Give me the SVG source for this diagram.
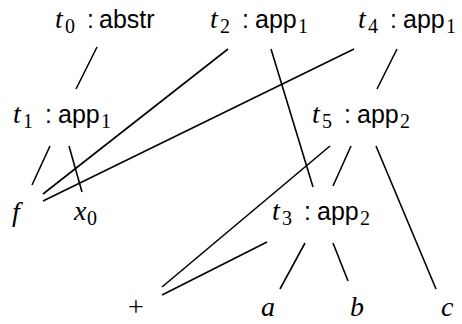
<svg xmlns="http://www.w3.org/2000/svg" width="462" height="324" viewBox="0 0 462 324">
<style>
text{font-family:"Liberation Sans",Arial,sans-serif;font-size:25px;fill:#000}
.mi{font-family:"Liberation Serif","Times New Roman",serif;font-style:italic;font-size:28px}
.sub{font-family:"Liberation Serif","Times New Roman",serif;font-style:normal;font-size:20px}
.e line{stroke:#000;stroke-width:1.6;stroke-linecap:butt}
</style>
<rect width="462" height="324" fill="#fff"/>
<g class="e" id="connectors">
<line x1="97" y1="47" x2="76" y2="89"/>
<line x1="228" y1="49" x2="43" y2="194"/>
<line x1="354" y1="49" x2="43" y2="201"/>
<line x1="50" y1="146" x2="32" y2="185"/>
<line x1="69" y1="146" x2="82" y2="192"/>
<line x1="271" y1="49" x2="313" y2="187"/>
<line x1="397" y1="49" x2="377" y2="89"/>
<line x1="330" y1="146" x2="162" y2="287"/>
<line x1="267" y1="242" x2="162" y2="295"/>
<line x1="351" y1="146" x2="333" y2="186"/>
<line x1="376" y1="146" x2="436" y2="289"/>
<line x1="305" y1="243" x2="280" y2="289"/>
<line x1="333" y1="243" x2="348" y2="281"/>
</g>
<g id="t0"><text y="28"><tspan class="mi" x="55">t</tspan><tspan class="sub" x="65" dy="5">0</tspan><tspan x="87" dy="-5">:</tspan><tspan x="99">abstr</tspan></text></g>
<g id="t2"><text y="28"><tspan class="mi" x="210">t</tspan><tspan class="sub" x="220" dy="5">2</tspan><tspan x="242" dy="-5">:</tspan><tspan x="255">app</tspan><tspan class="sub" x="298" dy="5">1</tspan></text></g>
<g id="t4"><text y="28"><tspan class="mi" x="358">t</tspan><tspan class="sub" x="368" dy="5">4</tspan><tspan x="390" dy="-5">:</tspan><tspan x="403">app</tspan><tspan class="sub" x="446" dy="5">1</tspan></text></g>
<g id="t1"><text y="123"><tspan class="mi" x="13">t</tspan><tspan class="sub" x="23" dy="5">1</tspan><tspan x="45" dy="-5">:</tspan><tspan x="58">app</tspan><tspan class="sub" x="101" dy="5">1</tspan></text></g>
<g id="t5"><text y="123"><tspan class="mi" x="312">t</tspan><tspan class="sub" x="322" dy="5">5</tspan><tspan x="344" dy="-5">:</tspan><tspan x="357">app</tspan><tspan class="sub" x="400" dy="5">2</tspan></text></g>
<g id="t3"><text y="220"><tspan class="mi" x="272">t</tspan><tspan class="sub" x="282" dy="5">3</tspan><tspan x="304" dy="-5">:</tspan><tspan x="317">app</tspan><tspan class="sub" x="360" dy="5">2</tspan></text></g>
<g id="f"><text x="12" y="221" class="mi">f</text></g>
<g id="x0"><text y="220"><tspan class="mi" x="74">x</tspan><tspan class="sub" x="87" dy="5">0</tspan></text></g>
<g id="plus"><text x="136" y="316" style="font-family:'Liberation Serif',serif;font-size:28px" text-anchor="middle">+</text></g>
<g id="a"><text x="261" y="316" class="mi">a</text></g>
<g id="b"><text x="350" y="316" class="mi">b</text></g>
<g id="c"><text x="441" y="316" class="mi">c</text></g>
</svg>
